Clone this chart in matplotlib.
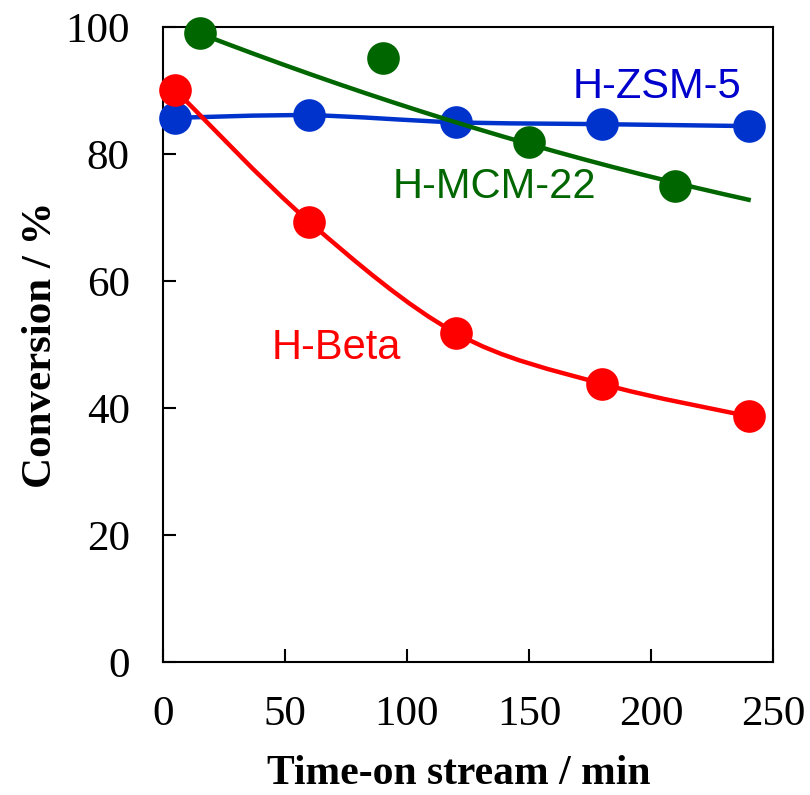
import numpy as np
import matplotlib
matplotlib.use("Agg")
import matplotlib.pyplot as plt
from matplotlib.path import Path
from matplotlib.patches import PathPatch

# --- data ---
zsm5_t = [5, 60, 120, 180, 240]
zsm5_conv = [85.7, 86.1, 85.0, 84.7, 84.4]

beta_t = [5, 60, 120, 180, 240]
beta_conv = [90.1, 69.3, 51.8, 43.8, 38.7]

mcm22_t = [15, 90, 150, 210]
mcm22_conv = [99.1, 95.1, 81.9, 75.0]

# trend line for H-MCM-22 (read at three places along the drawn curve)
mcm22_trend_t = [15, 120, 240]
mcm22_trend_conv = [99.0, 85.0, 72.8]

x_ticks = [0, 50, 100, 150, 200, 250]
y_ticks = [0, 20, 40, 60, 80, 100]

BLUE = "#0033cc"
RED = "#ff0000"
GREEN = "#006600"


def smooth_path(xs, ys):
    # Catmull-Rom style smoothing, drawn as cubic Bezier segments
    pts = np.column_stack([xs, ys]).astype(float)
    ext = np.vstack([pts[0], pts, pts[-1]])
    verts = [pts[0]]
    codes = [Path.MOVETO]
    for i in range(1, len(ext) - 2):
        p0, p1, p2, p3 = ext[i - 1], ext[i], ext[i + 1], ext[i + 2]
        verts += [p1 + (p2 - p0) / 6, p2 - (p3 - p1) / 6, p2]
        codes += [Path.CURVE4] * 3
    return Path(verts, codes)


fig = plt.figure(figsize=(8.1, 7.95), dpi=100)
ax = fig.add_axes([0.2012, 0.1673, 0.7531, 0.7987])

ms = 23.5
lw = 3.2

# H-ZSM-5
ax.add_patch(PathPatch(smooth_path(zsm5_t, zsm5_conv), fc="none", ec=BLUE,
                       lw=lw, clip_on=False, zorder=2))
ax.plot(zsm5_t, zsm5_conv, "o", color=BLUE, ms=ms, mec="none",
        clip_on=False, zorder=3)

# H-MCM-22 (quadratic trend through the read points)
coef = np.polyfit(mcm22_trend_t, mcm22_trend_conv, 2)
tt = np.linspace(mcm22_trend_t[0], mcm22_trend_t[-1], 200)
ax.plot(tt, np.polyval(coef, tt), color=GREEN, lw=lw, clip_on=False, zorder=4)
ax.plot(mcm22_t, mcm22_conv, "o", color=GREEN, ms=ms, mec="none",
        clip_on=False, zorder=5)

# H-Beta
ax.add_patch(PathPatch(smooth_path(beta_t, beta_conv), fc="none", ec=RED,
                       lw=lw, clip_on=False, zorder=6))
ax.plot(beta_t, beta_conv, "o", color=RED, ms=ms, mec="none",
        clip_on=False, zorder=7)

lab = dict(fontsize=30, family="Liberation Sans", ha="center", va="center")
ax.text(202.5, 90.5, "H-ZSM-5", color="#0000cc", **lab)
ax.text(136, 74.8, "H-MCM-22", color=GREEN, **lab)
ax.text(71, 49.4, "H-Beta", color=RED, **lab)

ax.set_xlim(0, 250)
ax.set_ylim(0, 100)
ax.set_xticks(x_ticks)
ax.set_yticks(y_ticks)
ax.tick_params(direction="in", length=9.5, width=1.5, labelsize=31, pad=24,
               top=False, right=False)
for lbl in ax.get_xticklabels() + ax.get_yticklabels():
    lbl.set_family("Liberation Serif")
for s in ax.spines.values():
    s.set_linewidth(1.5)

ax.set_xlabel("Time-on stream / min", fontsize=30, fontweight="bold",
              family="Liberation Serif", va="center")
ax.xaxis.set_label_coords(0.485, -0.176)
ax.set_ylabel("Conversion / %", fontsize=31, fontweight="bold",
              family="Liberation Serif", labelpad=4)

fig.savefig("out.png", dpi=100)
